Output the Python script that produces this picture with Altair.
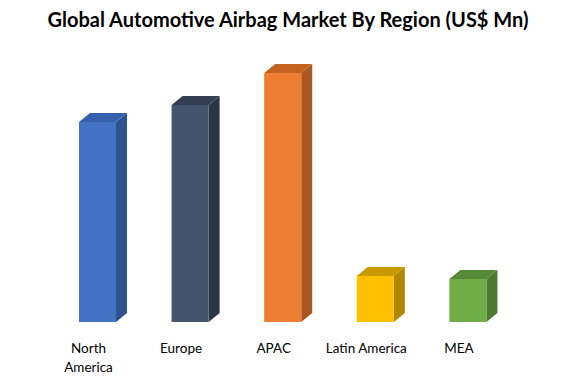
import altair as alt
import pandas as pd

# ---- data ----
regions = ["North America", "Europe", "APAC", "Latin America", "MEA"]
label_lines = [["North", "America"], ["Europe"], ["APAC"], ["Latin America"], ["MEA"]]
values = [20000, 21700, 24900, 4600, 4300]

front_colors = ["#4472C4", "#44546A", "#ED7D31", "#FFC000", "#70AD47"]
side_colors = ["#2F528F", "#2B3645", "#A9561F", "#B38600", "#4B7A30"]
top_colors = ["#3460AE", "#333F50", "#C4621F", "#C99A00", "#558A36"]

# ---- geometry helpers (in data units) ----
half_w = 0.2      # half bar width in category-index units
depth_x = 0.119   # 3D depth, horizontal (index units)
depth_y = 900     # 3D depth, vertical (value units)

front_rows, side_rows, top_rows, label_rows = [], [], [], []
for i, (r, v) in enumerate(zip(regions, values)):
    front_rows.append(dict(region=r, x=i - half_w, x2=i + half_w, y=0, y2=v, c=front_colors[i]))
    side_rows.append(dict(region=r, x=i + half_w, y=0, y2=v, c=side_colors[i]))
    side_rows.append(dict(region=r, x=i + half_w + depth_x, y=depth_y, y2=v + depth_y, c=side_colors[i]))
    top_rows.append(dict(region=r, y=v, x=i - half_w, x2=i + half_w, c=top_colors[i]))
    top_rows.append(dict(region=r, y=v + depth_y, x=i - half_w + depth_x, x2=i + half_w + depth_x, c=top_colors[i]))
    label_rows.append(dict(region=r, x=i, y=0, label=label_lines[i]))

front = pd.DataFrame(front_rows)
side = pd.DataFrame(side_rows)
top = pd.DataFrame(top_rows)
labels = pd.DataFrame(label_rows)

xscale = alt.Scale(domain=[-0.9665, 5.081], nice=False, zero=False)
yscale = alt.Scale(domain=[-5400, 27400], nice=False, zero=False)

side_layer = alt.Chart(side).mark_area(orient="vertical").encode(
    x=alt.X("x:Q", scale=xscale, axis=None),
    y=alt.Y("y:Q", scale=yscale, axis=None, stack=None),
    y2="y2:Q",
    detail="region:N",
    color=alt.Color("c:N", scale=None),
)

top_layer = alt.Chart(top).mark_area(orient="horizontal").encode(
    y=alt.Y("y:Q", scale=yscale, axis=None),
    x=alt.X("x:Q", scale=xscale, axis=None, stack=None),
    x2="x2:Q",
    detail="region:N",
    color=alt.Color("c:N", scale=None),
)

front_layer = alt.Chart(front).mark_bar().encode(
    x=alt.X("x:Q", scale=xscale, axis=None),
    x2="x2:Q",
    y=alt.Y("y:Q", scale=yscale, axis=None),
    y2="y2:Q",
    color=alt.Color("c:N", scale=None),
)

label_layer = alt.Chart(labels).mark_text(
    font="Lato", fontSize=13.5, color="#000000", baseline="top", align="center",
    dx=-9, dy=20, lineHeight=19,
).encode(
    x=alt.X("x:Q", scale=xscale, axis=None),
    y=alt.Y("y:Q", scale=yscale, axis=None),
    text="label",
)

chart = alt.layer(side_layer, top_layer, front_layer, label_layer).properties(
    width=560,
    height=328,
    autosize=alt.AutoSizeParams(type="none"),
    padding={"top": 40, "left": 0, "right": 0, "bottom": 0},
    background="#FFFFFF",
    title=alt.Title(
        "Global Automotive Airbag Market By Region (US$ Mn)",
        font="Lato", fontSize=20, fontWeight="bold", color="#000000",
        anchor="middle", offset=17,
    ),
).configure_view(stroke=None)

chart.save("out.html", embed_options={"renderer": "svg", "actions": False})
